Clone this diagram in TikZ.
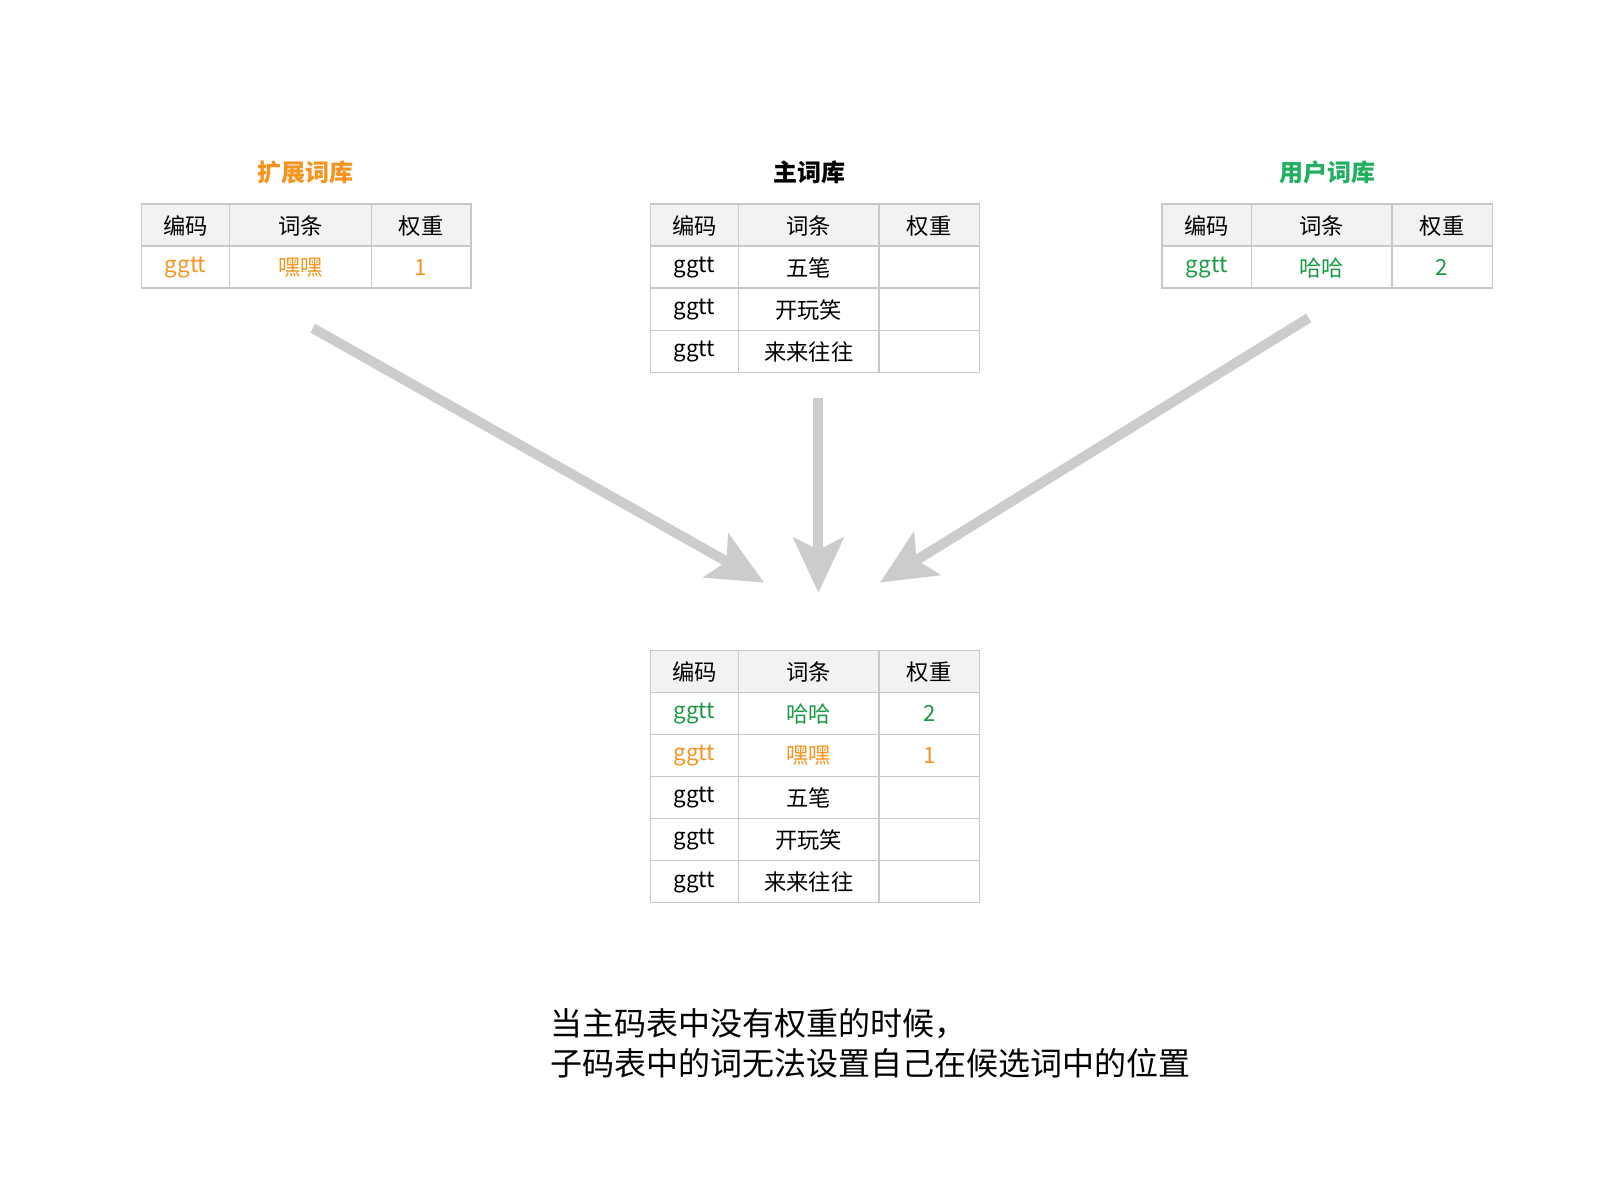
\documentclass[tikz,border=0pt]{standalone}
\usepackage{fontspec}
\setmainfont{Noto Sans CJK SC}
\usetikzlibrary{arrows.meta}
\definecolor{orng}{HTML}{F7931E}
\definecolor{grn}{HTML}{1A9A45}
\definecolor{ttlgrn}{HTML}{22B060}
\definecolor{brd}{HTML}{C8C8C8}
\definecolor{hdr}{HTML}{F2F2F2}
\definecolor{arr}{HTML}{CCCCCC}
\tikzset{cell/.style={font=\fontsize{22.3}{25}\selectfont,anchor=center},
ttl/.style={font=\fontsize{24}{27}\selectfont\bfseries},
bigarrow/.style={draw=arr,line width=10pt,-{Stealth[width=50pt,length=55pt,inset=12pt]}}}
\newcommand{\mytable}[7]{%
  \fill[hdr] (#1,#2) rectangle (#7,#2+41);
  \pgfmathsetmacro{\bot}{#2+41*(#3+1)}
  \foreach \i in {0,...,#3} {\draw[brd,line width=1.5pt] (#1,#2+41*\i+41) -- (#7,#2+41*\i+41);}
  \draw[brd,line width=1.5pt] (#1,#2) rectangle (#7,\bot);
  \draw[brd,line width=1.5pt] (#5,#2) -- (#5,\bot) (#6,#2) -- (#6,\bot);
  \node[cell] (#4h1) at ({(#1+#5)/2},#2+21) {编码};
  \node[cell] (#4h2) at ({(#5+#6)/2},#2+21) {词条};
  \node[cell] (#4h3) at ({(#6+#7)/2},#2+21) {权重};
}
\newcommand{\myrow}[9]{%
  \node[cell,text=#9] at ({(#1+#4)/2},#2+41*#3+21) {ggtt};
  \node[cell,text=#9] at ({(#4+#5)/2},#2+41*#3+21) {#7};
  \node[cell,text=#9] at ({(#5+#6)/2},#2+41*#3+21) {#8};
}
\begin{document}
\begin{tikzpicture}[x=1.02564pt,y=-1.02564pt]
\useasboundingbox (0,0) rectangle (1560,1170);
\node[ttl,text=orng] (t1) at (298,168) {扩展词库};
\node[ttl] (t2) at (789,168) {主词库};
\node[ttl,text=ttlgrn] (t3) at (1294,168) {用户词库};
\mytable{138}{199}{1}{L}{224}{362}{459}
\myrow{138}{199}{1}{224}{362}{459}{嘿嘿}{1}{orng}
\mytable{634}{199}{3}{M}{720}{857}{955}
\myrow{634}{199}{1}{720}{857}{955}{五笔}{}{black}
\myrow{634}{199}{2}{720}{857}{955}{开玩笑}{}{black}
\myrow{634}{199}{3}{720}{857}{955}{来来往往}{}{black}
\mytable{1133}{199}{1}{R}{1220}{1357}{1455}
\myrow{1133}{199}{1}{1220}{1357}{1455}{哈哈}{2}{grn}
\mytable{634}{634}{5}{B}{720}{857}{955}
\myrow{634}{634}{1}{720}{857}{955}{哈哈}{2}{grn}
\myrow{634}{634}{2}{720}{857}{955}{嘿嘿}{1}{orng}
\myrow{634}{634}{3}{720}{857}{955}{五笔}{}{black}
\myrow{634}{634}{4}{720}{857}{955}{开玩笑}{}{black}
\myrow{634}{634}{5}{720}{857}{955}{来来往往}{}{black}
\coordinate (a1s) at (305,320); \coordinate (a1e) at (745,568);
\coordinate (a2s) at (798,388); \coordinate (a2e) at (798,578);
\coordinate (a3s) at (1276,310); \coordinate (a3e) at (858,568);
\draw[bigarrow] (a1s) -- (a1e);
\draw[bigarrow] (a2s) -- (a2e);
\draw[bigarrow] (a3s) -- (a3e);
\node[anchor=west,font=\fontsize{32}{40}\selectfont,align=left,inner sep=0pt] (cap) at (537,1017) {当主码表中没有权重的时候，\\子码表中的词无法设置自己在候选词中的位置};
\end{tikzpicture}
\end{document}
